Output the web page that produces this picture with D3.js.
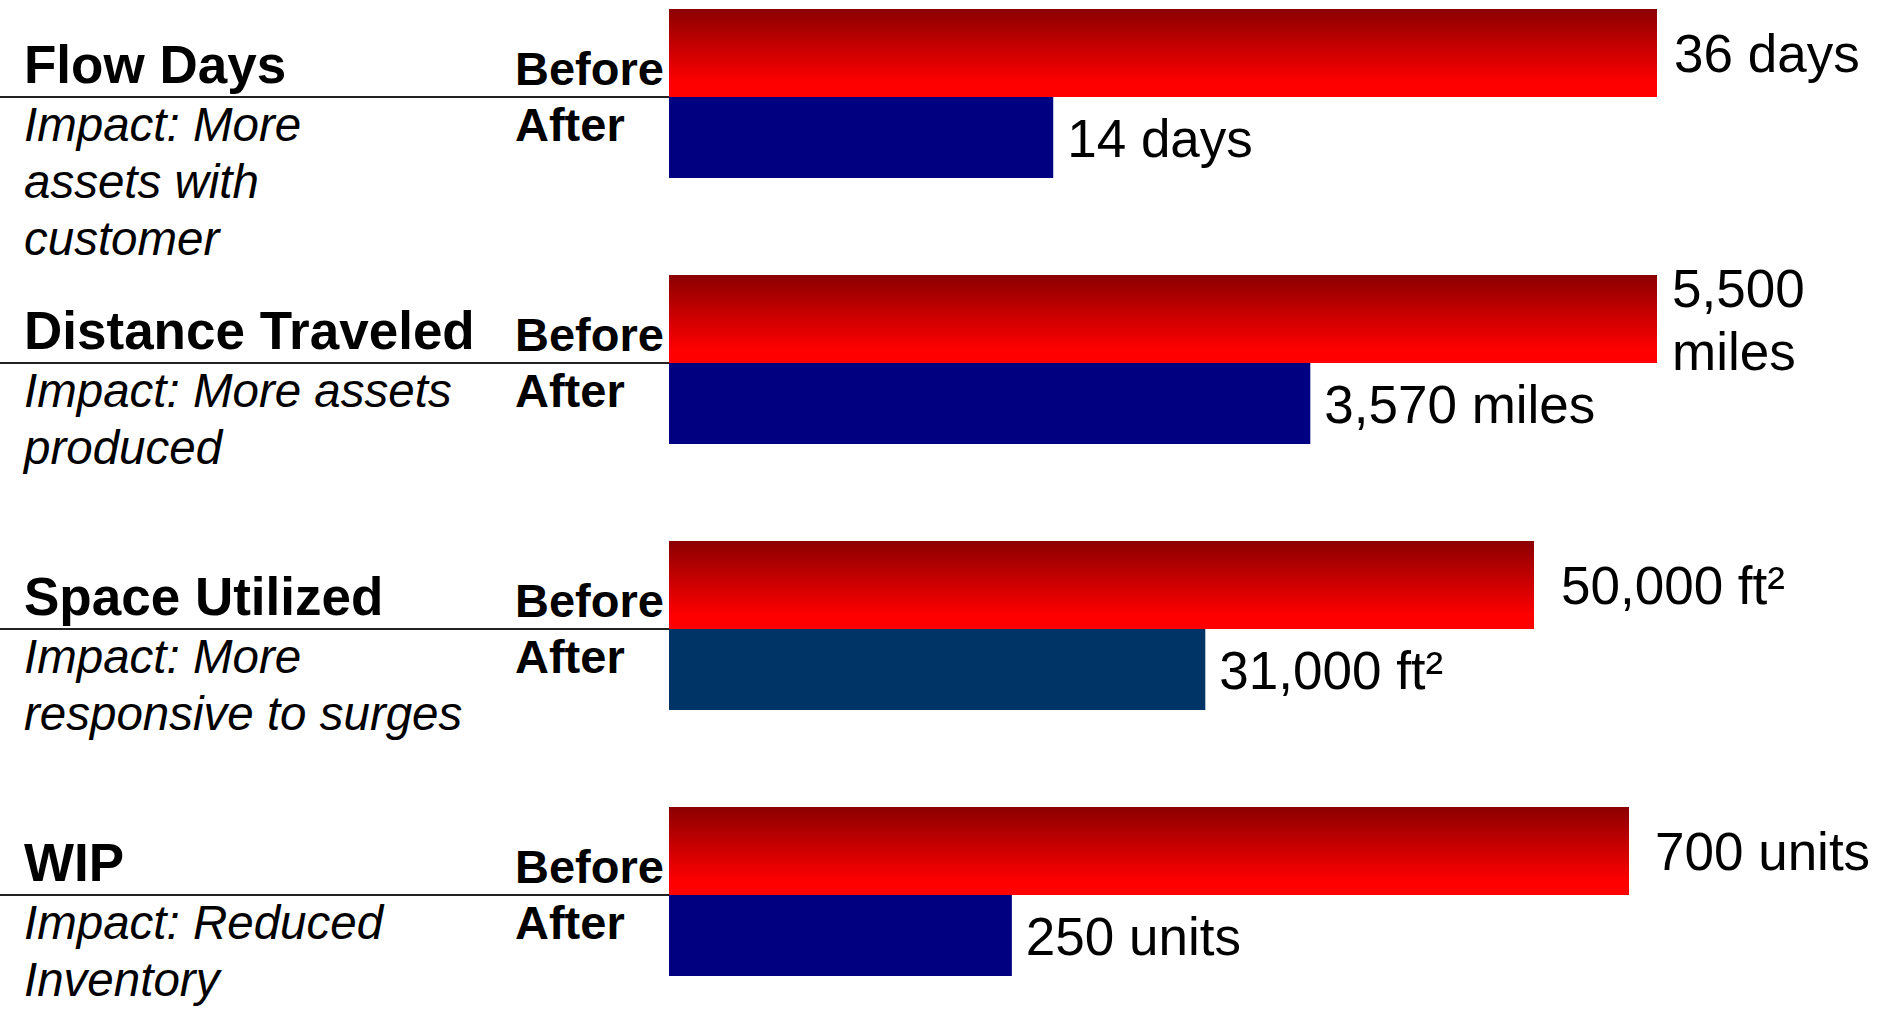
<!DOCTYPE html>
<html>
<head>
<meta charset="utf-8">
<script src="https://cdn.jsdelivr.net/npm/d3@7"></script>
<style>
  body { margin: 0; background: #fff; }
  svg { display: block; font-family: "Liberation Sans", Arial, sans-serif; }
</style>
</head>
<body>
<script>
const metrics = ["Flow Days", "Distance Traveled", "Space Utilized", "WIP"];
const phases = ["Before", "After"];
const beforeValues = [36, 5500, 50000, 700];
const afterValues = [14, 3570, 31000, 250];
const units = ["days", "miles", "ft\u00b2", "units"];
const impacts = [
  ["Impact: More", "assets with", "customer"],
  ["Impact: More assets", "produced"],
  ["Impact: More", "responsive to surges"],
  ["Impact: Reduced", "Inventory"]
];
const afterColors = ["#000080", "#000080", "#003366", "#000080"];

const w = 1886;
const h = 1013;
const barX0 = 669;
// where each panel's "before" bar ends (panels are drawn at their own scale)
const beforeEnd = [1657, 1657, 1534, 1629];
const gapBefore = [17, 15, 27, 26];
const gapAfter = 14;
const afterShrink = 7;

const svg = d3.select("body")
  .append("svg")
  .attr("width", w)
  .attr("height", h);

const grad = svg.append("defs")
  .append("linearGradient")
  .attr("id", "redFade")
  .attr("x1", 0).attr("y1", 0)
  .attr("x2", 0).attr("y2", 1);
grad.append("stop").attr("offset", "0%").attr("stop-color", "#8b0000");
grad.append("stop").attr("offset", "85%").attr("stop-color", "#ff0000");
grad.append("stop").attr("offset", "100%").attr("stop-color", "#ff0000");

const y = d3.scaleBand().domain(metrics).range([9, 1073]);
const yInner = d3.scaleBand().domain(phases).range([0, 176]);
const fmt = d3.format(",");

metrics.forEach((m, i) => {
  const x = d3.scaleLinear()
    .domain([0, beforeValues[i]])
    .range([barX0, beforeEnd[i]]);

  const g = svg.append("g").attr("transform", `translate(0,${y(m)})`);
  const lineY = yInner("After");
  const barH = (k) => yInner.bandwidth() - (k === 0 ? 0 : afterShrink);

  g.append("line")
    .attr("x1", 0).attr("x2", barX0)
    .attr("y1", lineY).attr("y2", lineY)
    .attr("stroke", "#222")
    .attr("stroke-width", 2);

  g.append("text")
    .text(m)
    .attr("x", 24)
    .attr("y", lineY - 14)
    .attr("font-size", 53)
    .attr("font-weight", "bold");

  g.append("text")
    .text("Before")
    .attr("x", 515)
    .attr("y", lineY - 12)
    .attr("font-size", 47)
    .attr("font-weight", "bold");

  g.append("text")
    .text("After")
    .attr("x", 515)
    .attr("y", lineY + 44)
    .attr("font-size", 47)
    .attr("font-weight", "bold");

  g.append("g")
    .selectAll("text")
    .data(impacts[i])
    .enter()
    .append("text")
    .text((d) => d)
    .attr("x", 24)
    .attr("y", (d, k) => lineY + 44 + k * 57)
    .attr("font-size", 47.5)
    .attr("font-style", "italic");

  const vals = [beforeValues[i], afterValues[i]];

  g.selectAll("rect")
    .data(vals)
    .enter()
    .append("rect")
    .attr("x", barX0)
    .attr("y", (d, k) => yInner(phases[k]))
    .attr("width", (d) => x(d) - barX0)
    .attr("height", (d, k) => barH(k))
    .attr("fill", (d, k) => k === 0 ? "url(#redFade)" : afterColors[i]);

  vals.forEach((v, k) => {
    const lx = x(v) + (k === 0 ? gapBefore[i] : gapAfter);
    const cy = yInner(phases[k]) + barH(k) / 2;
    const label = g.append("text")
      .attr("x", lx)
      .attr("font-size", 53);
    const full = fmt(v) + " " + units[i];
    label.text(full);
    let lines = [full];
    if (lx + label.node().getComputedTextLength() > w - 8) {
      lines = [fmt(v), units[i]];
    }
    label.text(null);
    const lh = 63;
    const first = cy + 19 - (lines.length - 1) * lh / 2;
    lines.forEach((t, j) => {
      label.append("tspan")
        .attr("x", lx)
        .attr("y", first + j * lh)
        .text(t);
    });
  });
});
</script>
</body>
</html>
